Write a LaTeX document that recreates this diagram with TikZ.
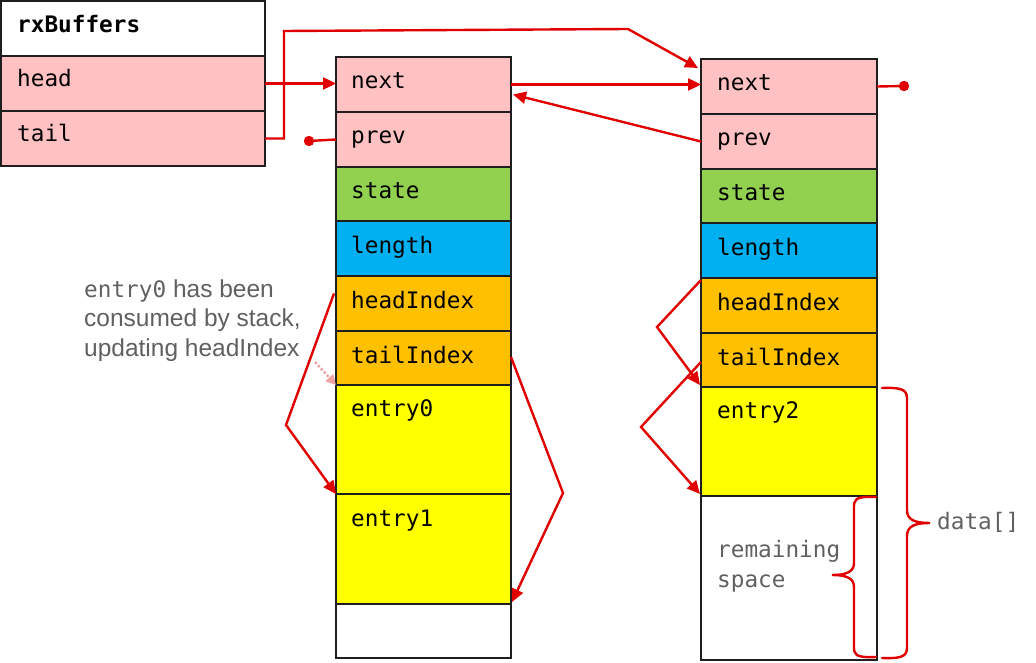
\documentclass[tikz,border=0pt]{standalone}
\usepackage{fontspec}
\setmainfont{Liberation Sans}
\setmonofont{DejaVu Sans Mono}
\usetikzlibrary{arrows.meta,calc}
\definecolor{pinkc}{RGB}{255,193,193}
\definecolor{greenc}{RGB}{146,208,80}
\definecolor{bluec}{RGB}{0,176,240}
\definecolor{orangec}{RGB}{255,192,0}
\definecolor{yellowc}{RGB}{255,255,0}
\definecolor{redc}{RGB}{225,0,0}
\definecolor{boxline}{RGB}{30,30,30}
\definecolor{grayt}{RGB}{96,96,96}
\definecolor{faintred}{RGB}{240,160,160}
\tikzset{
  cell/.style={draw=boxline, line width=1.6pt, inner sep=0pt, outer sep=0pt, anchor=north west},
  lbl/.style={anchor=base west, inner sep=0pt, font=\fontsize{22.7}{27}\selectfont\ttfamily},
  graylbl/.style={lbl, text=grayt},
  ann/.style={anchor=base west, inner sep=0pt, text=grayt, font=\fontsize{24.5}{29.5}\selectfont},
  ptr/.style={draw=redc, line width=2.4pt, -{Triangle[length=13pt,width=12pt]}},
  nullptr/.style={draw=redc, line width=2.4pt},
  brace/.style={draw=redc, line width=2.4pt, line cap=round},
}
\begin{document}
\begin{tikzpicture}[x=1pt,y=-1pt]
\useasboundingbox (0,0) rectangle (1036,663);
% rxBuffers
\node[cell, fill=white, minimum width=264pt, minimum height=55pt] (rx) at (1,1) {};
\node[cell, fill=pinkc, minimum width=264pt, minimum height=55pt] (rxh) at (1,56) {};
\node[cell, fill=pinkc, minimum width=264pt, minimum height=55pt] (rxt) at (1,111) {};
\node[lbl, font=\fontsize{22.7}{27}\selectfont\ttfamily\bfseries] (rxtx) at ($(rx.north west)+(16,32)$) {rxBuffers};
\node[lbl] (rxhtx) at ($(rxh.north west)+(16,31)$) {head};
\node[lbl] (rxttx) at ($(rxt.north west)+(16,31)$) {tail};
% left buffer
\node[cell, fill=pinkc, minimum width=175pt, minimum height=55pt] (ln) at (336,57) {};
\node[cell, fill=pinkc, minimum width=175pt, minimum height=55pt] (lp) at (336,112) {};
\node[cell, fill=greenc, minimum width=175pt, minimum height=54pt] (ls) at (336,167) {};
\node[cell, fill=bluec, minimum width=175pt, minimum height=55pt] (ll) at (336,221) {};
\node[cell, fill=orangec, minimum width=175pt, minimum height=55pt] (lhi) at (336,276) {};
\node[cell, fill=orangec, minimum width=175pt, minimum height=54pt] (lti) at (336,331) {};
\node[cell, fill=yellowc, minimum width=175pt, minimum height=109pt] (le0) at (336,385) {};
\node[cell, fill=yellowc, minimum width=175pt, minimum height=110pt] (le1) at (336,494) {};
\node[cell, fill=white, minimum width=175pt, minimum height=54pt] (lemp) at (336,604) {};
\node[lbl] (lntx) at ($(ln.north west)+(15,32)$) {next};
\node[lbl] (lptx) at ($(lp.north west)+(15,32)$) {prev};
\node[lbl] (lstx) at ($(ls.north west)+(15,32)$) {state};
\node[lbl] (lltx) at ($(ll.north west)+(15,32)$) {length};
\node[lbl] (lhitx) at ($(lhi.north west)+(15,32)$) {headIndex};
\node[lbl] (ltitx) at ($(lti.north west)+(15,32)$) {tailIndex};
\node[lbl] (le0tx) at ($(le0.north west)+(15,31)$) {entry0};
\node[lbl] (le1tx) at ($(le1.north west)+(15,32)$) {entry1};
% right buffer
\node[cell, fill=pinkc, minimum width=176pt, minimum height=55pt] (rn) at (701,59) {};
\node[cell, fill=pinkc, minimum width=176pt, minimum height=55pt] (rp) at (701,114) {};
\node[cell, fill=greenc, minimum width=176pt, minimum height=54pt] (rs) at (701,169) {};
\node[cell, fill=bluec, minimum width=176pt, minimum height=55pt] (rl) at (701,223) {};
\node[cell, fill=orangec, minimum width=176pt, minimum height=55pt] (rhi) at (701,278) {};
\node[cell, fill=orangec, minimum width=176pt, minimum height=54pt] (rti) at (701,333) {};
\node[cell, fill=yellowc, minimum width=176pt, minimum height=109pt] (re2) at (701,387) {};
\node[cell, fill=white, minimum width=176pt, minimum height=164pt] (rrem) at (701,496) {};
\node[lbl] (rntx) at ($(rn.north west)+(16,32)$) {next};
\node[lbl] (rptx) at ($(rp.north west)+(16,32)$) {prev};
\node[lbl] (rstx) at ($(rs.north west)+(16,32)$) {state};
\node[lbl] (rltx) at ($(rl.north west)+(16,32)$) {length};
\node[lbl] (rhitx) at ($(rhi.north west)+(16,32)$) {headIndex};
\node[lbl] (rtitx) at ($(rti.north west)+(16,32)$) {tailIndex};
\node[lbl] (re2tx) at ($(re2.north west)+(16,31)$) {entry2};
\node[graylbl] (rrem1) at (717,557) {remaining};
\node[graylbl] (rrem2) at (717,587) {space};
\node[graylbl] (datatx) at (937,529) {data[]};
% annotation
\node[ann] (ann1) at (84,297) {{\fontsize{22.7}{27}\selectfont\ttfamily entry0} has been};
\node[ann] (ann2) at (84,326.5) {consumed by stack,};
\node[ann] (ann3) at (84,356) {updating headIndex};
% connectors
\coordinate (tb1) at (284,31);
\coordinate (tb2) at (628,29);
\coordinate (ldot) at (309,141);
\coordinate (rdot) at (904,86);
\coordinate (lhb) at (286,425);
\coordinate (ltb) at (563,493);
\coordinate (rhb) at (657,327);
\coordinate (rtb) at (641,427);
\coordinate (dots) at (315,362);
\draw[ptr] (rxh.east) -- (rxh.east -| ln.west);
\draw[ptr] (rxt.east) -| (tb1) -- (tb2) -- ($(rn.north west)+(-3,9)$);
\draw[ptr] (ln.east) -- (ln.east -| rn.west);
\draw[ptr] (rp.west) -- ($(ln.east)+(2,10)$);
\draw[nullptr] (ldot) -- (lp.west);
\fill[redc] (ldot) circle (5.2);
\draw[nullptr] (rdot) -- (rn.east);
\fill[redc] (rdot) circle (5.2);
\draw[ptr] ($(lhi.west)+(-2,-10)$) -- (lhb) -- (le0.south west);
\draw[ptr] ($(lti.east)+(0,-1)$) -- (ltb) -- ($(le1.south east)+(1,-2)$);
\draw[ptr] ($(rhi.north west)+(0,2)$) -- (rhb) -- ($(rti.south west)+(-1,-2)$);
\draw[ptr] ($(rti.west)+(0,2)$) -- (rtb) -- ($(re2.south west)+(-1,-2)$);
\draw[draw=faintred, line width=2.4pt, dotted, -{Triangle[length=10pt,width=10pt]}] (dots) -- ($(le0.north west)+(0,0)$);
% braces
\draw[brace] (882,388) .. controls (907,387) and (907,392) .. (907,401) -- (907,510)
  .. controls (907,520) and (915,523) .. (930,523)
  .. controls (915,523) and (907,526) .. (907,536) -- (907,645)
  .. controls (907,654) and (907,659) .. (882,658);
\draw[brace] (876,497) .. controls (854,496) and (854,500) .. (854,508) -- (854,563)
  .. controls (854,572) and (846,575) .. (832,575)
  .. controls (846,575) and (854,578) .. (854,587) -- (854,646)
  .. controls (854,654) and (854,658) .. (876,657);
\end{tikzpicture}
\end{document}
